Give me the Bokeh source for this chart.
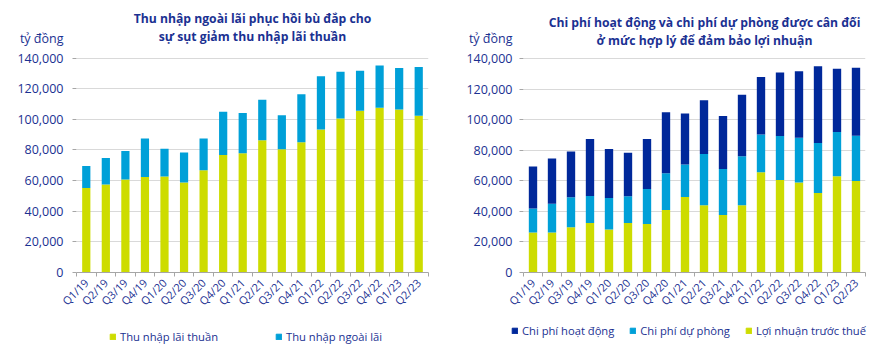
import math
from bokeh.plotting import figure
from bokeh.layouts import row, column
from bokeh.models import (ColumnDataSource, FixedTicker, NumeralTickFormatter, Legend,
                          LegendItem, Label, Range1d, Grid)
from bokeh.embed import file_html
from bokeh.resources import INLINE

quarters = ["Q1/19", "Q2/19", "Q3/19", "Q4/19", "Q1/20", "Q2/20", "Q3/20", "Q4/20",
            "Q1/21", "Q2/21", "Q3/21", "Q4/21", "Q1/22", "Q2/22", "Q3/22", "Q4/22",
            "Q1/23", "Q2/23"]

# Left chart (tỷ đồng)
thu_nhap_lai_thuan = [55100, 57500, 60700, 62400, 62700, 58800, 66800, 76700, 77800,
                      86400, 80400, 85100, 93300, 100600, 105600, 107600, 106500, 102400]
thu_nhap_ngoai_lai = [14400, 17200, 18600, 25100, 18100, 19600, 20700, 28300, 26300,
                      26400, 22200, 31300, 34800, 30500, 26200, 27600, 27000, 31800]

# Right chart (tỷ đồng)
loi_nhuan_truoc_thue = [26200, 26200, 29700, 32500, 28100, 32500, 31800, 41000, 49500,
                        44000, 37700, 44000, 65600, 60600, 58900, 52100, 63000, 60000]
chi_phi_du_phong = [15700, 18900, 19600, 17700, 20700, 17400, 22900, 24000, 21300,
                    33600, 30100, 32100, 24800, 28800, 29400, 32700, 29000, 29600]
chi_phi_hoat_dong = [27600, 29600, 30000, 37300, 32100, 28500, 32800, 40000, 33300,
                     35200, 34800, 40300, 37700, 41700, 43500, 50400, 41500, 44600]

y_ticks = [0, 20000, 40000, 60000, 80000, 100000, 120000, 140000]
unit_text = "tỷ đồng"

YELLOW = "#cddc00"
LIGHT = "#00a0d8"
DARK = "#00289a"
TEXT = "#1b3192"
AXIS = "#a6a6a6"
FONT = "Open Sans"

xs = list(range(len(quarters)))


def make_fig(width, left, right, bottom, y_end, unit_pos, standoff):
    p = figure(width=width, height=320, output_backend="svg", toolbar_location=None,
               x_range=Range1d(-0.5, len(quarters) - 0.5), y_range=Range1d(0, y_end),
               min_border_left=left, min_border_right=right, min_border_top=0,
               min_border_bottom=bottom)
    p.outline_line_color = None
    p.xgrid.grid_line_color = None
    p.ygrid.grid_line_color = "#d9d9d9"
    p.ygrid.ticker = FixedTicker(ticks=y_ticks)
    # vertical axis line limited to the value range
    p.add_layout(Grid(dimension=0, ticker=FixedTicker(ticks=[-0.5]), bounds=(0, y_ticks[-1]),
                      grid_line_color=AXIS))
    p.yaxis.ticker = FixedTicker(ticks=y_ticks + [unit_pos], minor_ticks=y_ticks)
    p.yaxis.formatter = NumeralTickFormatter(format="0,0")
    p.yaxis.major_label_overrides = {unit_pos: unit_text}
    p.yaxis.axis_line_color = None
    p.yaxis.major_tick_line_color = None
    p.yaxis.major_tick_in = 0
    p.yaxis.major_tick_out = 4
    p.yaxis.minor_tick_line_color = AXIS
    p.yaxis.minor_tick_in = 0
    p.yaxis.minor_tick_out = 4
    p.yaxis.major_label_standoff = standoff
    p.yaxis.major_label_text_font_size = "12.5px"

    p.xaxis.ticker = FixedTicker(ticks=xs, minor_ticks=[i - 0.5 for i in range(len(quarters) + 1)])
    p.xaxis.major_label_overrides = {i: q for i, q in enumerate(quarters)}
    p.xaxis.major_label_orientation = math.pi / 4
    p.xaxis.major_tick_line_color = None
    p.xaxis.minor_tick_line_color = AXIS
    p.xaxis.minor_tick_in = 0
    p.xaxis.minor_tick_out = 4
    p.xaxis.axis_line_color = AXIS
    p.xaxis.major_label_text_font_size = "11px"
    p.xaxis.major_label_standoff = 2
    for ax in (p.xaxis, p.yaxis):
        ax.major_label_text_color = TEXT
        ax.major_label_text_font = FONT
    return p


def label(p, x, y, text):
    p.add_layout(Label(x=x, y=y, x_units="screen", y_units="screen", text=text,
                       text_font=FONT, text_font_size="12.2px", text_font_style="bold",
                       text_color=TEXT, text_align="center", text_baseline="middle"))


def legend_fig(width, entries, loc, spacing):
    # bars of the same data lie entirely below the visible range: only the legend shows
    f = figure(width=width, height=35, output_backend="svg", toolbar_location=None,
               x_range=Range1d(-0.5, len(quarters) - 0.5), y_range=Range1d(1e7, 1e7 + 1),
               min_border=0)
    f.axis.visible = False
    f.grid.visible = False
    f.outline_line_color = None
    items = []
    for name, color, vals in entries:
        r = f.vbar(x=xs, top=vals, bottom=0, width=0.4, color=color)
        items.append(LegendItem(label=name, renderers=[r]))
    f.add_layout(Legend(items=items, orientation="horizontal", location=loc,
                        glyph_width=7, glyph_height=7, label_text_font=FONT,
                        label_text_font_size="11.2px", label_text_color=TEXT,
                        spacing=spacing, padding=0, margin=0, border_line_color=None,
                        background_fill_alpha=0, label_standoff=4))
    return f


# ---------- left ----------
src1 = ColumnDataSource(dict(x=xs, a=thu_nhap_lai_thuan, b=thu_nhap_ngoai_lai))
p1 = make_fig(440, 76, 12, 46, 177600, 153000, 9)
p1.vbar_stack(["a", "b"], x="x", width=0.42, source=src1, color=[YELLOW, LIGHT],
              line_color=None)
label(p1, 176, 254, "Thu nhập ngoài lãi phục hồi bù đắp cho")
label(p1, 176, 236, "sự sụt giảm thu nhập lãi thuần")
l1 = legend_fig(440, [("Thu nhập lãi thuần", YELLOW, thu_nhap_lai_thuan),
                      ("Thu nhập ngoài lãi", LIGHT, thu_nhap_ngoai_lai)],
                (109, 11), 57)

# ---------- right ----------
src2 = ColumnDataSource(dict(x=xs, a=loi_nhuan_truoc_thue, b=chi_phi_du_phong,
                             c=chi_phi_hoat_dong))
p2 = make_fig(439, 83, 14, 48, 178200, 153000, 7)
p2.vbar_stack(["a", "b", "c"], x="x", width=0.44, source=src2,
              color=[YELLOW, LIGHT, DARK], line_color=None)
label(p2, 181, 250, "Chi phí hoạt động và chi phí dự phòng được cân đối")
label(p2, 181, 232, "ở mức hợp lý để đảm bảo lợi nhuận")
l2 = legend_fig(439, [("Chi phí hoạt động", DARK, chi_phi_hoat_dong),
                      ("Chi phí dự phòng", LIGHT, chi_phi_du_phong),
                      ("Lợi nhuận trước thuế", YELLOW, loi_nhuan_truoc_thue)],
                (71, 17), 15)

layout = column(row(p1, p2), row(l1, l2))
open("out.html", "w").write(file_html(layout, INLINE))
